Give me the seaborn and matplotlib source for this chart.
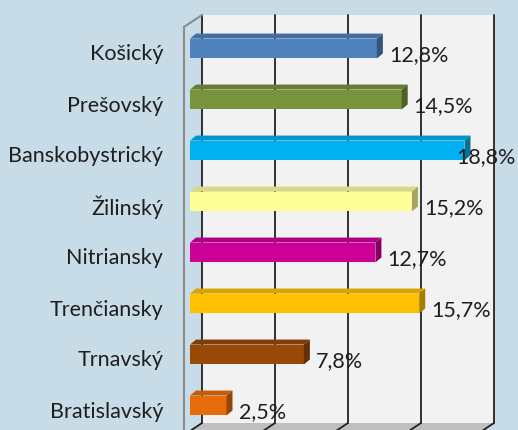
import matplotlib
matplotlib.use('Agg')
import matplotlib.pyplot as plt
import matplotlib.transforms as mtransforms
from matplotlib.patches import Polygon, Rectangle
import matplotlib.colors as mcolors
import seaborn as sns
import numpy as np

regions = ['Košický', 'Prešovský', 'Banskobystrický', 'Žilinský',
           'Nitriansky', 'Trenčiansky', 'Trnavský', 'Bratislavský']
shares = [12.8, 14.5, 18.8, 15.2, 12.7, 15.7, 7.8, 2.5]
share_labels = ['12,8%', '14,5%', '18,8%', '15,2%', '12,7%', '15,7%', '7,8%', '2,5%']
bar_colors = ['#4F81BD', '#77933C', '#00B0F0', '#FFFF99',
              '#CC0099', '#FFC000', '#984807', '#E46C0A']
grid_values = [0, 5, 10, 15, 20]

BG = '#C8DCE7'
WALL = '#F2F2F2'
TEXT = '#1E1E1E'
FS = 15.5

sns.set_style('white')
plt.rcParams['font.family'] = ['Lato', 'DejaVu Sans']

fig = plt.figure(figsize=(5.18, 4.30), dpi=100, facecolor=BG)
ax = fig.add_axes([184 / 518, -5 / 430, 292 / 518, 408 / 430])
ax.set_facecolor('none')


def shifted(dx, dy):
    # offset in pixels (dpi 100), used for the fake 3d depth
    return ax.transData + mtransforms.ScaledTranslation(dx / 100, dy / 100, fig.dpi_scale_trans)


sns.barplot(x=shares, y=regions, hue=regions, palette=bar_colors, legend=False,
            orient='h', width=0.39, saturation=1, ax=ax, zorder=3)

ax.set_xlim(0, 20)
ax.set_ylim(7.5, -0.5)
n = len(regions)

# back wall + gridlines
wall_tr = shifted(18, 12)
ax.add_patch(Rectangle((0, -0.5), 20, n, transform=wall_tr, facecolor=WALL,
                       edgecolor='none', zorder=0, clip_on=False))
for v in grid_values:
    ax.plot([v, v], [-0.5, n - 0.5], transform=wall_tr, color='#222222',
            lw=1.3, zorder=1, clip_on=False)

# floor
front = ax.transData.transform([(0, n - 0.5), (20, n - 0.5)])
back = front + np.array([18, 12])
floor = Polygon([front[0], front[1], back[1], back[0]], closed=True,
                transform=mtransforms.IdentityTransform(), facecolor='#BFBFBF',
                edgecolor='none', zorder=0.5, clip_on=False)
ax.add_patch(floor)
for v in grid_values:
    p = ax.transData.transform((v, n - 0.5))
    ax.add_line(plt.Line2D([p[0], p[0] + 18], [p[1], p[1] + 12],
                           transform=mtransforms.IdentityTransform(),
                           color='#222222', lw=1.3, zorder=1, clip_on=False))

# top-left diagonal edge
p = ax.transData.transform((0, -0.5))
ax.add_line(plt.Line2D([p[0], p[0] + 18], [p[1], p[1] + 12],
                       transform=mtransforms.IdentityTransform(),
                       color='#8C8C8C', lw=1.5, zorder=1, clip_on=False))

# 3d bars: shift front faces, add top and side faces
bar_tr = shifted(6, 4)
depth = np.array([6, 5])
for patch, col in zip(ax.patches, bar_colors):
    if not isinstance(patch, matplotlib.patches.Rectangle) or patch.get_zorder() != 3:
        continue
    patch.set_transform(bar_tr)
    patch.set_edgecolor('none')
    x0, y0 = patch.get_x(), patch.get_y()
    w, h = patch.get_width(), patch.get_height()
    tl, tr_, br = bar_tr.transform([(x0, y0), (x0 + w, y0), (x0 + w, y0 + h)])
    rgb = np.array(mcolors.to_rgb(col))
    top = Polygon([tl, tr_, tr_ + depth, tl + depth], closed=True,
                  transform=mtransforms.IdentityTransform(),
                  facecolor=rgb * 0.85, edgecolor='none', zorder=3, clip_on=False)
    side = Polygon([tr_, br, br + depth, tr_ + depth], closed=True,
                   transform=mtransforms.IdentityTransform(),
                   facecolor=rgb * 0.65, edgecolor='none', zorder=3, clip_on=False)
    ax.add_patch(top)
    ax.add_patch(side)

# value labels
texts = []
for i, (v, lbl) in enumerate(zip(shares, share_labels)):
    t = ax.text(v, i + 0.05, lbl, transform=shifted(18, 0), ha='left', va='center',
                fontsize=FS, color=TEXT, zorder=4)
    texts.append((t, v, i))

# axes styling
for s in ['top', 'right', 'bottom']:
    ax.spines[s].set_visible(False)
ax.spines['left'].set_color('#8C8C8C')
ax.spines['left'].set_linewidth(1.5)
ax.set_xticks([])
ax.set_yticks(range(n))
ax.set_yticklabels(regions)
ax.set_yticks(np.arange(-0.5, n), minor=True)
ax.tick_params(axis='y', which='major', length=0, pad=15, labelsize=FS, labelcolor=TEXT)
ax.tick_params(axis='y', which='minor', length=5, width=1.3, color='#8C8C8C')
ax.set_xlabel('')
ax.set_ylabel('')

# keep labels inside the figure (like excel pushes them over the bar end)
fig.canvas.draw()
renderer = fig.canvas.get_renderer()
W = fig.bbox.width
for t, v, i in texts:
    bb = t.get_window_extent(renderer)
    over = bb.x1 - (W - 2)
    if over > 0:
        t.set_transform(shifted(18 - over, 0))

fig.savefig('out.png', dpi=100, facecolor=BG)
